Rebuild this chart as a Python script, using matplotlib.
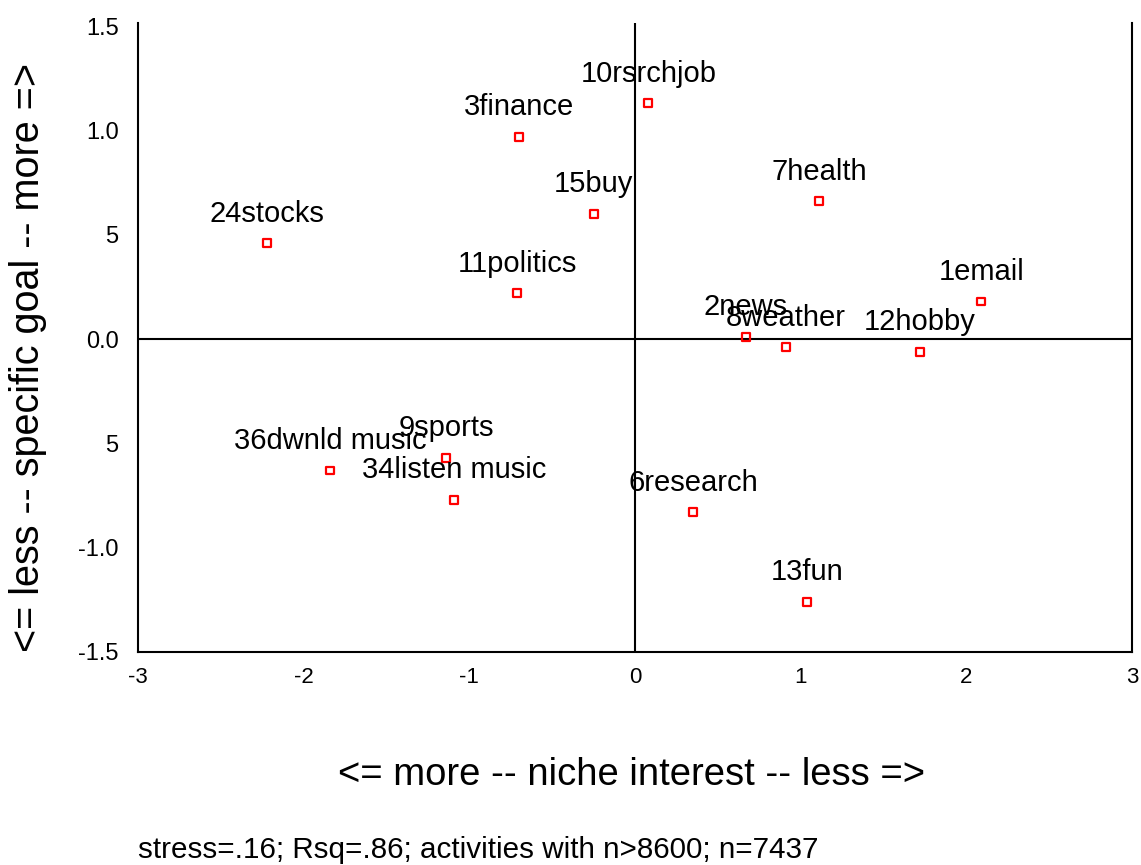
import matplotlib
matplotlib.use("Agg")
import matplotlib.pyplot as plt

plt.rcParams['font.family'] = ['Liberation Sans', 'DejaVu Sans']

labels = ["24stocks", "3finance", "10rsrchjob", "15buy", "7health", "11politics",
          "1email", "2news", "8weather", "12hobby", "9sports", "36dwnld music",
          "34listen music", "6research", "13fun"]
x_vals = [-2.22, -0.70, 0.08, -0.25, 1.11, -0.71,
          2.09, 0.67, 0.91, 1.72, -1.14, -1.84,
          -1.09, 0.35, 1.04]
y_vals = [0.46, 0.97, 1.13, 0.60, 0.66, 0.22,
          0.18, 0.01, -0.04, -0.06, -0.57, -0.63,
          -0.77, -0.83, -1.26]

x_ticks = [-3, -2, -1, 0, 1, 2, 3]
x_ticklabels = ["-3", "-2", "-1", "0", "1", "2", "3"]
y_ticks = [1.5, 1.0, 0.5, 0.0, -0.5, -1.0, -1.5]
y_ticklabels = ["1.5", "1.0", "5", "0.0", "5", "-1.0", "-1.5"]

x_title = "<= more -- niche interest -- less =>"
y_title = "<= less -- specific goal -- more =>"
note = "stress=.16; Rsq=.86; activities with n>8600; n=7437"

W, H = 1141, 865
fig = plt.figure(figsize=(W / 100, H / 100), dpi=100)
ax = fig.add_axes([138 / W, 1 - 652 / H, (1132 - 138) / W, (652 - 23) / H])

ax.set_xlim(-3, 3)
ax.set_ylim(-1.5, 1.515)

ax.axhline(0, color='black', lw=1.5, zorder=1)
ax.axvline(0, color='black', lw=1.5, zorder=1)

ax.scatter(x_vals, y_vals, marker='s', s=32, facecolors='none',
           edgecolors='#ff0000', linewidths=1.6, zorder=3)
for lab, xv, yv in zip(labels, x_vals, y_vals):
    ax.annotate(lab, (xv, yv), xytext=(0, 15.5), textcoords='offset points',
                ha='center', va='baseline', fontsize=21, color='black', zorder=4)

ax.spines['top'].set_visible(False)
for s in ['left', 'right', 'bottom']:
    ax.spines[s].set_linewidth(1.5)
    ax.spines[s].set_color('black')

ax.set_xticks(x_ticks)
ax.set_xticklabels(x_ticklabels, fontsize=16)
ax.set_yticks(y_ticks)
ax.set_yticklabels(y_ticklabels, fontsize=17)
ax.tick_params(axis='both', length=0)
ax.tick_params(axis='y', pad=14)
ax.tick_params(axis='x', pad=11)

fig.text(631 / W, 1 - 775 / H, x_title, ha='center', va='center', fontsize=27.5)
fig.text(28 / W, 1 - 358 / H, y_title, ha='center', va='center', rotation=90, fontsize=28.5)
fig.text(138 / W, 1 - 850 / H, note, ha='left', va='center', fontsize=21.3)

fig.savefig("out.png", dpi=100)
